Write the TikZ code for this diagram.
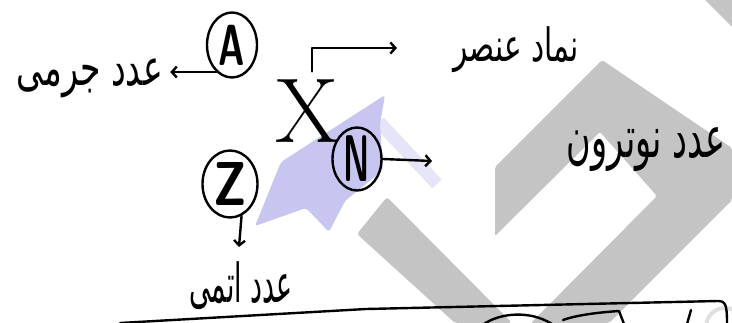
\documentclass[tikz,border=0pt]{standalone}
\usepackage{fontspec}
\newfontfamily\fa[Script=Arabic]{DejaVu Sans}
\TeXXeTstate=1
\usetikzlibrary{shapes.geometric, arrows.meta}

\definecolor{wmgray}{RGB}{196,196,196}
\definecolor{wmblue}{RGB}{198,198,240}
\definecolor{wmpale}{RGB}{229,229,247}

\begin{document}
\begin{tikzpicture}[x=1pt, y=-1pt,
        ink/.style={line width=2.4pt, line cap=round, line join=round},
        ring/.style={ellipse, draw, ink, inner sep=-4pt},
        arr/.style={ink, -{Straight Barb[length=5pt,width=11pt]}},
        lbl/.style={font=\fa, inner sep=0pt}]
        \useasboundingbox (0,0) rectangle (732,323);
        \fill[white] (0,0) rectangle (732,323);

        % watermark in the background
        \draw[wmpale, line width=13pt] (379,122) -- (437,184);
        \fill[wmblue, rounded corners=3pt] (385,95) -- (380,124) -- (383,170) -- (345,201) -- (329,232) -- (306,208) -- (255,226) -- (281,162) -- cycle;
        \fill[wmgray, rounded corners=2pt] (495,167) -- (602,60) -- (732,148) -- (732,200) -- (609,323) -- (531,323) -- (657,196) -- (600,132) -- (495,236) -- cycle;
        \fill[wmgray, rounded corners=3pt] (357,234) -- (387,197) -- (512,323) -- (455,323) -- cycle;
        \fill[wmgray] (705,0) -- (732,0) -- (732,27) -- cycle;
        \draw[black!12, line width=4pt] (725,327) circle[radius=19];

        % element symbol and its numbers
        \node[font=\fontsize{92}{92}\selectfont, inner sep=0pt] (letX) at (307,111) {X};
        \node[ring, minimum width=50pt, minimum height=65pt] (ringA) at (232,45) {\sffamily\bfseries\fontsize{58}{58}\selectfont\scalebox{0.62}[1]{A}};
        \node[ring, minimum width=49pt, minimum height=63pt] (ringN) at (357,159) {\sffamily\bfseries\fontsize{66}{66}\selectfont\scalebox{0.5}[1]{N}};
        \node[ring, minimum width=55pt, minimum height=67pt] (ringZ) at (230,184) {\sffamily\bfseries\fontsize{62}{62}\selectfont\scalebox{0.8}[1]{Z}};

        % Persian labels
        \node[lbl] (massLbl) at (90,78) {\resizebox*{146pt}{39pt}{\beginR عدد جرمی\endR}};
        \node[lbl] (symLbl) at (516,50) {\resizebox*{125pt}{46pt}{\beginR نماد عنصر\endR}};
        \node[lbl] (neuLbl) at (646,150) {\resizebox*{158pt}{44pt}{\beginR عدد نوترون\endR}};
        \node[lbl] (atomLbl) at (241,286) {\resizebox*{103pt}{48pt}{\beginR عدد اتمی\endR}};

        % arrows
        \coordinate (symTip) at (397,48);
        \coordinate (neuTip) at (432,161);
        \coordinate (atomTip) at (239,247);
        \draw[arr, shorten >=7pt] (ringA.240) -- (ringA.240 -| massLbl.east);
        \draw[arr] ([xshift=5pt, yshift=8pt]letX.north) |- (symTip);
        \draw[arr] (ringN.east) -- (neuTip);
        \draw[arr] (ringZ.290) -- (atomTip);

        % start of the next line, cut off at the bottom
        \draw[ink] (120,323) -- (366,309) -- (718,301) .. controls (726,301) and (727,306) .. (727,323);
        \draw[ink] (484,324) .. controls (500,313) and (530,310) .. (552,324);
        \draw[ink] (563,320) .. controls (580,314) and (605,312) .. (619,311) -- (624,324);
        \draw[ink] (691,310) -- (687,324);
\end{tikzpicture}
\end{document}
